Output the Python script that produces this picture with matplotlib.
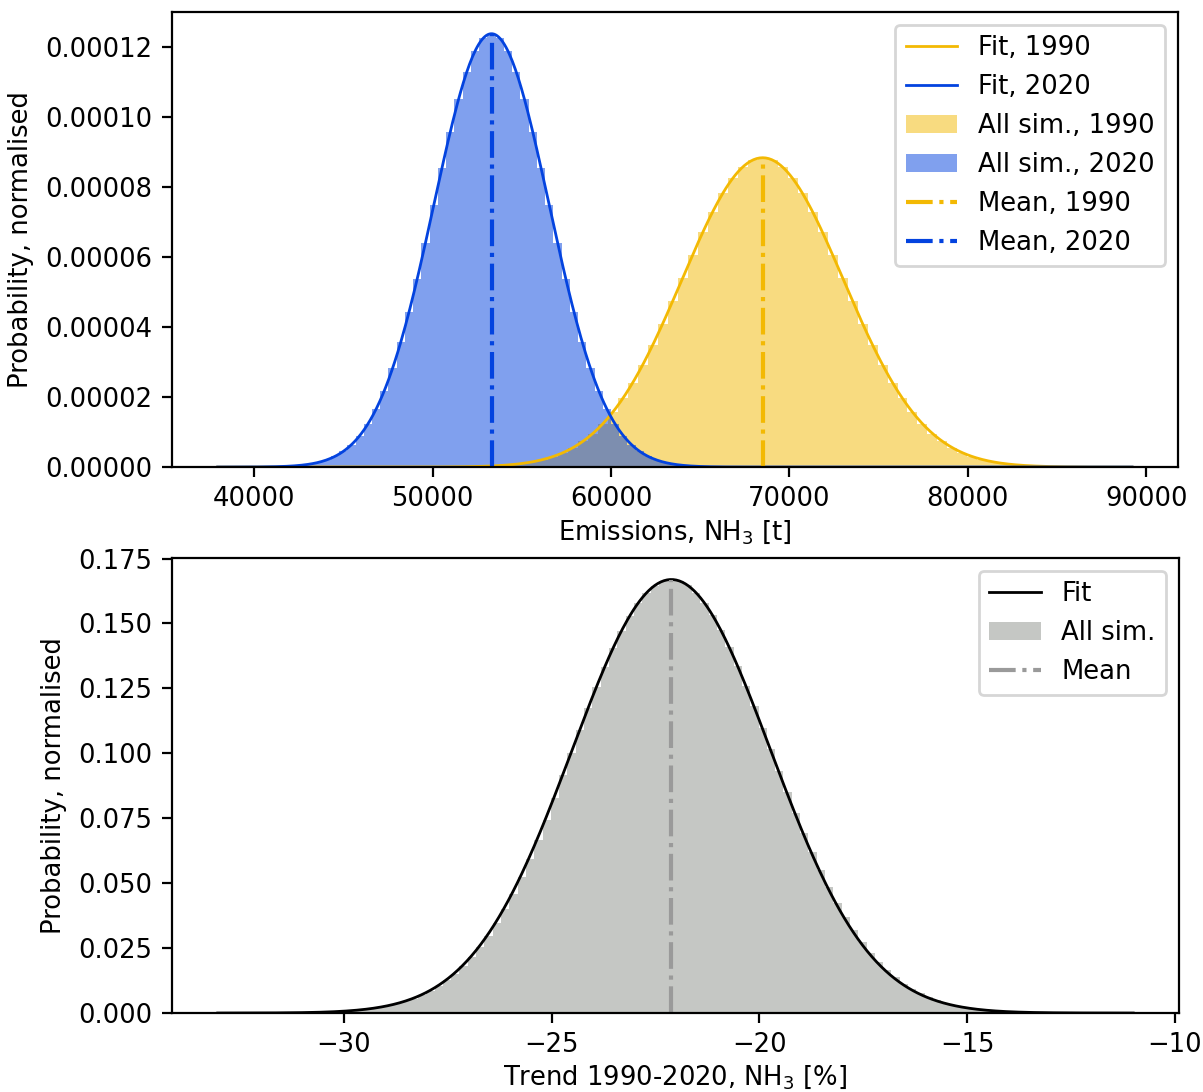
import numpy as np
import matplotlib
matplotlib.use("Agg")
import matplotlib.pyplot as plt

plt.rcParams['font.size'] = 9.3

# --- emissions 1990 / 2020 (top panel) ---
fit_mean_1990 = 68500.0
fit_sd_1990 = 4518.0
fit_mean_2020 = 53300.0
fit_sd_2020 = 3225.0
fit_range_emis = (37950.0, 89210.0)

# histogram of all simulations, bins (probability x 1e-5)
bin_w_1990 = 560.0
bin_start_1990 = 68500.0 - 560.0 * 30.5
hist_1990 = [0.009, 0.014, 0.021, 0.032, 0.049, 0.072, 0.105, 0.151, 0.214, 0.297,
             0.408, 0.550, 0.731, 0.957, 1.23, 1.57, 1.96, 2.41, 2.92, 3.48,
             4.09, 4.74, 5.40, 6.06, 6.70, 7.29, 7.81, 8.24, 8.56, 8.76,
             8.83,
             8.76, 8.56, 8.24, 7.81, 7.29, 6.70, 6.06, 5.40, 4.74, 4.09,
             3.48, 2.92, 2.41, 1.96, 1.57, 1.23, 0.957, 0.731, 0.550, 0.408,
             0.297, 0.214, 0.151, 0.105, 0.072, 0.049, 0.032, 0.021, 0.014, 0.009]

bin_w_2020 = 462.0
bin_start_2020 = 53300.0 - 462.0 * 26.5
hist_2020 = [0.012, 0.020, 0.033, 0.054, 0.086, 0.134, 0.204, 0.304, 0.444, 0.636,
             0.893, 1.23, 1.65, 2.18, 2.82, 3.57, 4.43, 5.38, 6.41, 7.48,
             8.55, 9.57, 10.50, 11.28, 11.87, 12.24,
             12.37,
             12.24, 11.87, 11.28, 10.50, 9.57, 8.55, 7.48, 6.41, 5.38, 4.43,
             3.57, 2.82, 2.18, 1.65, 1.23, 0.893, 0.636, 0.444, 0.304, 0.204,
             0.134, 0.086, 0.054, 0.033, 0.020, 0.012]

# --- trend 1990-2020 (bottom panel) ---
fit_mean_trend = -22.12
fit_sd_trend = 2.390
fit_range_trend = (-33.04, -11.0)

bin_w_trend = 0.2
bin_start_trend = -22.12 - 0.2 * 40.5
hist_trend = [0.00059, 0.00078, 0.00103, 0.00134, 0.00173, 0.00221, 0.00282, 0.00357, 0.00448, 0.00559,
              0.00693, 0.00851, 0.0104, 0.0126, 0.0151, 0.0181, 0.0215, 0.0254, 0.0297, 0.0345,
              0.0399, 0.0458, 0.0523, 0.0592, 0.0666, 0.0745, 0.0828, 0.0915, 0.1002, 0.1089,
              0.1173, 0.1255, 0.1334, 0.1405, 0.1472, 0.1529, 0.1578, 0.1617, 0.1646, 0.1663,
              0.1669,
              0.1665, 0.1648, 0.1619, 0.1580, 0.1531, 0.1474, 0.1408, 0.1337, 0.1261, 0.1181,
              0.1098, 0.1015, 0.0931, 0.0850, 0.0770, 0.0693, 0.0620, 0.0551, 0.0485, 0.0425,
              0.0369, 0.0318, 0.0273, 0.0232, 0.0196, 0.0164, 0.0137, 0.0113, 0.00926, 0.00755,
              0.00610, 0.00490, 0.00390, 0.00309, 0.00243, 0.00190, 0.00147, 0.00113, 0.00086, 0.00065]

c1990 = '#f3b903'
c2020 = '#0343df'
ctrend = '#8d918b'


def normpdf(x, m, s):
    return np.exp(-0.5 * ((x - m) / s) ** 2) / (s * np.sqrt(2 * np.pi))


fig = plt.figure(figsize=(6.015, 5.46), dpi=200)
ax1 = fig.add_axes([0.143, 0.5723, 0.836, 0.4167])
ax2 = fig.add_axes([0.143, 0.0723, 0.837, 0.4167])

# top panel
x = np.linspace(fit_range_emis[0], fit_range_emis[1], 600)
e90 = bin_start_1990 + bin_w_1990 * np.arange(len(hist_1990) + 1)
e20 = bin_start_2020 + bin_w_2020 * np.arange(len(hist_2020) + 1)
h90 = ax1.stairs(np.array(hist_1990) * 1e-5, e90, fill=True, color=c1990, alpha=0.5, lw=0)
h20 = ax1.stairs(np.array(hist_2020) * 1e-5, e20, fill=True, color=c2020, alpha=0.5, lw=0)
f90, = ax1.plot(x, normpdf(x, fit_mean_1990, fit_sd_1990), color=c1990, lw=1)
f20, = ax1.plot(x, normpdf(x, fit_mean_2020, fit_sd_2020), color=c2020, lw=1)
m90, = ax1.plot([fit_mean_1990, fit_mean_1990], [0, normpdf(fit_mean_1990, fit_mean_1990, fit_sd_1990)],
                '-.', color=c1990, lw=1.5)
m20, = ax1.plot([fit_mean_2020, fit_mean_2020], [0, normpdf(fit_mean_2020, fit_mean_2020, fit_sd_2020)],
                '-.', color=c2020, lw=1.5)
ax1.set_ylim(0, 0.0001299)
ax1.set_xlim(35390, 91770)
ax1.set_ylabel('Probability, normalised')
ax1.set_xlabel('Emissions, NH$_3$ [t]', labelpad=2)
ax1.legend([f90, f20, h90, h20, m90, m20],
           ['Fit, 1990', 'Fit, 2020', 'All sim., 1990', 'All sim., 2020', 'Mean, 1990', 'Mean, 2020'],
           loc='upper right')

# bottom panel
xt = np.linspace(fit_range_trend[0], fit_range_trend[1], 600)
et = bin_start_trend + bin_w_trend * np.arange(len(hist_trend) + 1)
ht = ax2.stairs(hist_trend, et, fill=True, color=ctrend, alpha=0.5, lw=0)
ft, = ax2.plot(xt, normpdf(xt, fit_mean_trend, fit_sd_trend), color='k', lw=1)
mt, = ax2.plot([fit_mean_trend, fit_mean_trend], [0, normpdf(fit_mean_trend, fit_mean_trend, fit_sd_trend)],
               '-.', color='#9a9a9a', lw=1.5)
ax2.set_ylim(0, 0.1752)
ax2.set_xlim(-34.14, -9.90)
ax2.set_ylabel('Probability, normalised')
ax2.set_xlabel('Trend 1990-2020, NH$_3$ [%]', labelpad=1.5)
ax2.legend([ft, ht, mt], ['Fit', 'All sim.', 'Mean'], loc='upper right')

fig.savefig('out.png', dpi=200)
